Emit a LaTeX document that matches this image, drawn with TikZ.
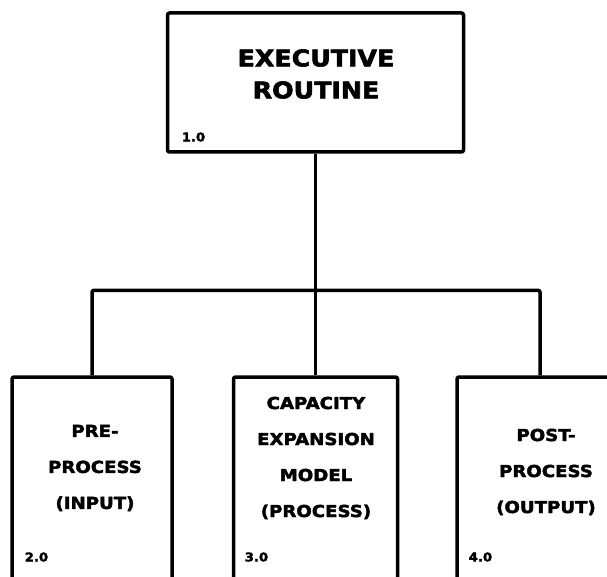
\documentclass[tikz,border=0pt]{standalone}
\usepackage{fontspec}
\newfontfamily\boxfont{DejaVu Sans Bold}[FakeStretch=1.1, FakeBold=2.5]
\begin{document}
\begin{tikzpicture}[x=1pt, y=-1pt, line width=3.5pt, line join=round,
  box/.style={draw, rounded corners=2pt, inner sep=0pt},
  title/.style={font=\boxfont\fontsize{23}{32}\selectfont, align=center, inner sep=0pt},
  caption/.style={font=\boxfont\fontsize{16.5}{36}\selectfont, align=center, inner sep=0pt},
  tag/.style={font=\boxfont\fontsize{12}{14}\selectfont, anchor=west, inner sep=0pt},
  wire/.style={rounded corners=2pt}]
\useasboundingbox (0,0) rectangle (607,577);
\clip (0,0) rectangle (607,577);

% top-level routine
\node[box, minimum width=296, minimum height=139] (exec) at (315.5,82.5) {};
\node[title] (t0) at (316,74) {EXECUTIVE\\ROUTINE};
\node[tag] (n0) at (180,137) {1.0};

% second-level modules (their lower edges run off the sheet)
\node[box, minimum width=160, minimum height=240] (pre)  at (92,497) {};
\node[box, minimum width=164, minimum height=240] (cap)  at (315.5,497) {};
\node[box, minimum width=166, minimum height=240] (post) at (540,497) {};

\node[caption] (t1) at (95,468) {PRE-\\PROCESS\\(INPUT)};
\node[caption] (t2) at (316,458) {CAPACITY\\EXPANSION\\MODEL\\(PROCESS)};
\node[caption] (t3) at (546,472) {POST-\\PROCESS\\(OUTPUT)};

\node[tag] (n1) at (23,557) {2.0};
\node[tag] (n2) at (243,557) {3.0};
\node[tag] (n3) at (467,557) {4.0};

% hierarchy connectors
\draw (exec.south) -- (cap.north);
\draw[wire] (pre.north) -- ++(0,-85) -| (post.north);
\end{tikzpicture}
\end{document}
